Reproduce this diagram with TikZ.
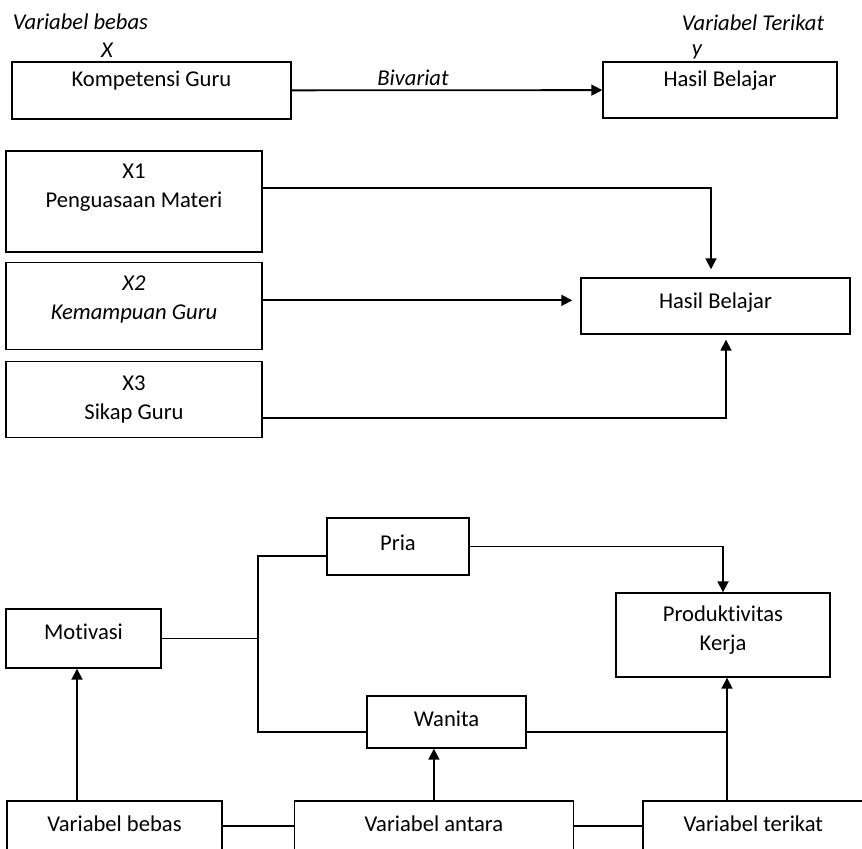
\documentclass[tikz,border=0pt]{standalone}
\usepackage{fontspec}
\setmainfont[Ligatures=NoCommon]{Carlito}
\usetikzlibrary{arrows.meta, positioning}

\newcommand{\diagfont}{\fontsize{11.3}{14.5}\selectfont}

\begin{document}
\begin{tikzpicture}[
  x=0.5pt, y=-0.5pt,
  font=\diagfont,
  box/.style={draw, rectangle, line width=0.7pt, inner sep=0pt},
  ital/.style={font=\diagfont\itshape},
  arrow/.style={-{Triangle[length=5.5pt, width=5.5pt]}, line width=0.9pt},
  link/.style={line width=0.65pt}
]
\useasboundingbox (0,0) rectangle (862,849);

% Part 1: bivariat
\node[ital] (bebasLbl) at (80.5,22) {Variabel bebas};
\node[ital] (xLbl) at (107,50) {X};
\node[ital] (terikatLbl) at (753,23) {Variabel Terikat};
\node[ital] (yLbl) at (697,52) {y};

\node[box, minimum width=139.5pt, minimum height=28.5pt] (KG) at (151.5,90.5) {};
\node (KGtxt) at ([yshift=4.75pt]KG.center) {Kompetensi Guru};
\node[box, minimum width=117pt, minimum height=28pt] (HB) at (720,90) {};
\node (HBtxt) at ([yshift=4.5pt]HB.center) {Hasil Belajar};

\draw[arrow] (KG) -- (HB);
\node[ital] (biv) at (413,78) {Bivariat};

% Part 2: multivariat
\node[box, minimum width=128pt, minimum height=50.5pt] (X1) at (134,201.5) {};
\node[align=center] (X1txt) at ([yshift=7pt]X1.center) {X1\\Penguasaan Materi};
\node[box, minimum width=128pt, minimum height=43.5pt, below=4.5pt of X1] (X2) {};
\node[ital, align=center] (X2txt) at ([yshift=3pt]X2.center) {X2\\Kemampuan Guru};
\node[box, minimum width=128pt, minimum height=38pt, below=5.5pt of X2] (X3) {};
\node[align=center] (X3txt) at ([yshift=0.25pt]X3.center) {X3\\Sikap Guru};

\node[box, minimum width=134.5pt, minimum height=28pt] (HBm) at (715.5,306) {};
\node (HBmtxt) at ([yshift=1.5pt]HBm.center) {Hasil Belajar};

\coordinate (X2out) at ([yshift=2.75pt]X2.east);
\draw[arrow, shorten >=4pt] ([yshift=6.75pt]X1.east) -| ([xshift=-2.25pt]HBm.north);
\draw[arrow, shorten >=4pt] (X2out) -- (X2out -| HBm.west);
\draw[arrow, shorten >=2.5pt] ([yshift=-9pt]X3.east) -| ([xshift=5.25pt]HBm.south);

% Part 3: variabel antara
\node[box, minimum width=71pt, minimum height=28.5pt] (Pria) at (398,546.5) {};
\node (Priatxt) at ([yshift=1.75pt]Pria.center) {Pria};
\node[box, minimum width=77.5pt, minimum height=29.5pt] (Mot) at (83.5,638.5) {};
\node (Mottxt) at ([yshift=3.25pt]Mot.center) {Motivasi};
\node[box, minimum width=107pt, minimum height=42pt] (Prod) at (723,635) {};
\node[align=center] (Prodtxt) at ([yshift=2.25pt]Prod.center) {Produktivitas\\Kerja};
\node[box, minimum width=79.5pt, minimum height=26pt] (Wan) at (446.5,722) {};
\node (Wantxt) at ([yshift=1.5pt]Wan.center) {Wanita};

\node[box, minimum width=107.5pt, minimum height=25pt] (VBebas) at (114.5,826) {};
\node (VBebastxt) at ([yshift=1pt]VBebas.center) {Variabel bebas};
\node[box, minimum width=139.5pt, minimum height=25pt, right=35.5pt of VBebas] (VAntara) {};
\node (VAntaratxt) at ([yshift=1pt]VAntara.center) {Variabel antara};
\node[box, minimum width=110.5pt, minimum height=25pt, right=34pt of VAntara] (VTerikat) {};
\node (VTerikattxt) at ([yshift=1pt]VTerikat.center) {Variabel terikat};

\coordinate (split) at (258,638.5);
\coordinate (WanOut) at ([yshift=-5pt]Wan.east);
\coordinate (ProdIn) at ([xshift=2pt]Prod.south);
\coordinate (MotIn) at ([xshift=-3.25pt]Mot.south);

\draw[link] (Mot.east) -- (split);
\draw[link] ([yshift=-4.75pt]Pria.west) -| (split) |- ([yshift=-5pt]Wan.west);
\draw[arrow] (Pria.east) -| (Prod.north);
\draw[link] (WanOut) -- (WanOut -| ProdIn);

\draw[arrow] (MotIn |- VBebas.north) -- (MotIn);
\draw[arrow] (VAntara.north) -- (VAntara.north |- Wan.south);
\draw[arrow] (ProdIn |- VTerikat.north) -- (ProdIn);
\draw[link] (VBebas) -- (VAntara);
\draw[link] (VAntara) -- (VTerikat);

\end{tikzpicture}
\end{document}
